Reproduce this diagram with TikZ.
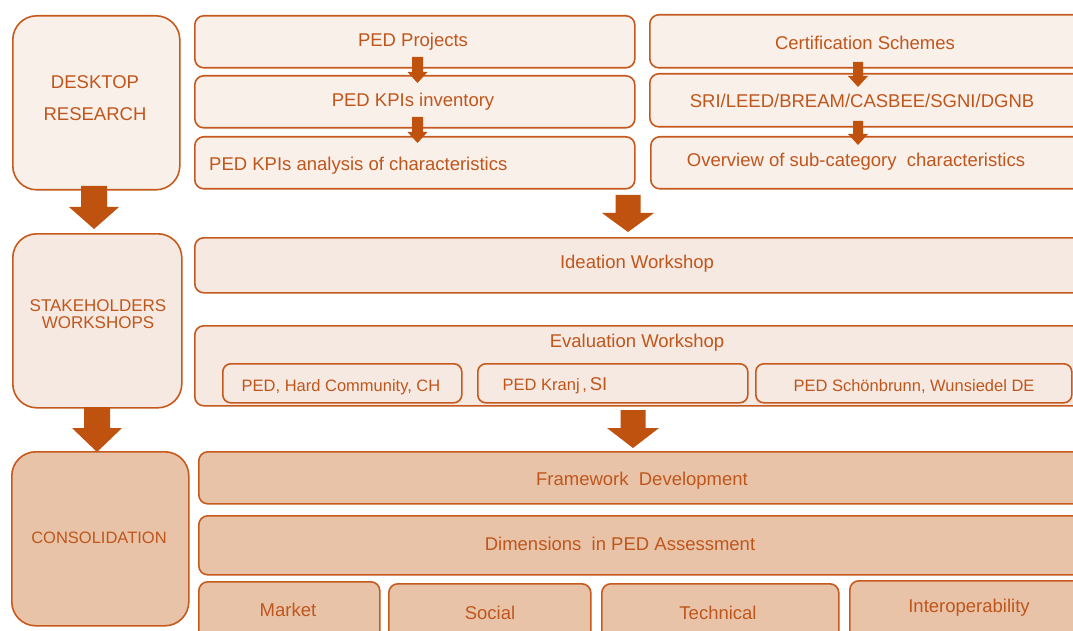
\documentclass[tikz,border=0pt]{standalone}
\usepackage{fontspec}
\setmainfont{Liberation Sans}
\definecolor{edge}{HTML}{C65A1E}
\definecolor{ink}{HTML}{BF561C}
\definecolor{arrowfill}{HTML}{BE520E}
\definecolor{paleA}{HTML}{FAF0EA}
\definecolor{paleB}{HTML}{F6E9E1}
\definecolor{tan}{HTML}{E8C3A8}
\tikzset{
  stage/.style={draw=edge, line width=1.6pt, rounded corners=24pt, anchor=north west, inner sep=0pt},
  panel/.style={draw=edge, line width=1.6pt, rounded corners=9pt, anchor=north west, inner sep=0pt},
  lbl/.style={text=ink, font=\fontsize{18.5}{21}\selectfont, inner sep=0pt, yshift=-2pt},
  small/.style={text=ink, font=\fontsize{16.5}{18}\selectfont, inner sep=0pt, yshift=-1pt},
}
% block arrow: cx, y top, y head base, y tip, shaft half width, head half width
\newcommand\blockarrow[6]{%
  \fill[arrowfill] (#1-#5,#2) -- (#1+#5,#2) -- (#1+#5,#3) -- (#1+#6,#3) -- (#1,#4)
    -- (#1-#6,#3) -- (#1-#5,#3) -- cycle;}
\begin{document}
\begin{tikzpicture}[x=1pt,y=-1pt]
\useasboundingbox (0,0) rectangle (1073,631);
\clip (0,0) rectangle (1073,631);
\fill[white] (0,0) rectangle (1073,631);

% ---- desktop research ----
\node[stage, fill=paleA, minimum width=167pt, minimum height=174pt] (dr) at (12,15) {};
\node[lbl, align=center] (drt) at (95,96) {DESKTOP\\[11pt]RESEARCH};

\node[panel, fill=paleA, minimum width=440pt, minimum height=52pt] (p1) at (194,15) {};
\node[panel, fill=paleA, minimum width=440pt, minimum height=52pt] (p2) at (194,75) {};
\node[panel, fill=paleA, minimum width=440pt, minimum height=52pt] (p3) at (194,136) {};
\node[lbl] (p1t) at (413,40) {PED Projects};
\node[lbl] (p2t) at (413,100) {PED KPIs inventory};
\node[lbl, anchor=west] (p3t) at (209,164) {PED KPIs analysis of characteristics};

\node[panel, fill=paleA, minimum width=433pt, minimum height=53pt] (c1) at (649,14) {};
\node[panel, fill=paleA, minimum width=433pt, minimum height=53pt] (c2) at (649,73) {};
\node[panel, fill=paleA, minimum width=432pt, minimum height=52pt] (c3) at (650,136) {};
\node[lbl] (c1t) at (865,41) {Certification Schemes};
\node[lbl] (c2t) at (862,99) {SRI/LEED/BREAM/CASBEE/SGNI/DGNB};
\node[lbl] (c3t) at (856,160) {Overview of sub-category\ \ characteristics};

\blockarrow{417.5}{57}{72}{83}{5.5}{10}
\blockarrow{417.5}{117}{132}{143}{5.5}{10}
\blockarrow{858}{62}{76}{87}{5}{10}
\blockarrow{858}{121}{134}{145}{5}{10}

\blockarrow{94}{186}{207}{229}{13}{25}
\blockarrow{628}{195}{213}{232}{12.5}{26}

% ---- stakeholder workshops ----
\node[stage, fill=paleB, minimum width=169pt, minimum height=174pt] (sw) at (12,233) {};
\node[lbl, align=center, font=\fontsize{17}{17}\selectfont] (swt) at (98,312) {STAKEHOLDERS\\WORKSHOPS};

\node[panel, fill=paleB, minimum width=888pt, minimum height=55pt] (iw) at (194,237) {};
\node[lbl] (iwt) at (637,262) {Ideation Workshop};

\node[panel, fill=paleB, minimum width=888pt, minimum height=80pt] (ew) at (194,325) {};
\node[lbl] (ewt) at (637,341) {Evaluation Workshop};
\node[panel, fill=paleB, rounded corners=8pt, minimum width=239pt, minimum height=39pt] (e1) at (222,363) {};
\node[panel, fill=paleB, rounded corners=8pt, minimum width=270pt, minimum height=39pt] (e2) at (477,363) {};
\node[panel, fill=paleB, rounded corners=8pt, minimum width=316pt, minimum height=39pt] (e3) at (755,363) {};
\node[small] (e1t) at (341,386) {PED, Hard Community, CH};
\node[small] (e2t) at (555,385) {PED Kranj\,,\,{\fontsize{18.5}{18}\selectfont SI}};
\node[small] (e3t) at (914,386) {PED Schönbrunn, Wunsiedel DE};

\blockarrow{97}{407}{428}{452}{13}{25}
\blockarrow{633}{410}{428}{448}{12.5}{26}

% ---- consolidation ----
\node[stage, fill=tan, minimum width=177pt, minimum height=174pt] (co) at (11,451) {};
\node[lbl, font=\fontsize{16.5}{18}\selectfont] (cot) at (99,536) {CONSOLIDATION};

\node[panel, fill=tan, minimum width=888pt, minimum height=52pt] (fd) at (198,451) {};
\node[lbl] (fdt) at (642,479) {Framework\ \ Development};
\node[panel, fill=tan, minimum width=888pt, minimum height=59pt] (dm) at (198,515) {};
\node[lbl] (dmt) at (620,542) {Dimensions\ \ in PED Assessment};

\node[panel, fill=tan, minimum width=181pt, minimum height=60pt] (m1) at (198,581) {};
\node[panel, fill=tan, minimum width=202pt, minimum height=60pt] (m2) at (388,583) {};
\node[panel, fill=tan, minimum width=237pt, minimum height=60pt] (m3) at (601,583) {};
\node[panel, fill=tan, minimum width=237pt, minimum height=62pt] (m4) at (849,580) {};
\node[lbl] (m1t) at (288,608) {Market};
\node[lbl] (m2t) at (490,611) {Social};
\node[lbl] (m3t) at (718,611) {Technical};
\node[lbl] (m4t) at (969,606) {Interoperability};
\end{tikzpicture}
\end{document}
